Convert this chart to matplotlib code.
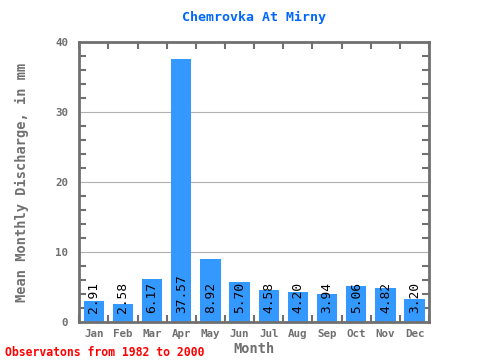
import numpy as np
import matplotlib
matplotlib.use("Agg")
import matplotlib.pyplot as plt
from matplotlib.ticker import MultipleLocator

# -------------------------------------------------------------------
# Data
# -------------------------------------------------------------------
months = ["Jan", "Feb", "Mar", "Apr", "May", "Jun",
          "Jul", "Aug", "Sep", "Oct", "Nov", "Dec"]
discharge = [2.91, 2.58, 6.17, 37.57, 8.92, 5.70,
             4.58, 4.20, 3.94, 5.06, 4.82, 3.20]
value_labels = ["2.91", "2.58", "6.17", "37.57", "8.92", "5.70",
                "4.58", "4.20", "3.94", "5.06", "4.82", "3.20"]
y_ticks = [0, 10, 20, 30, 40]

plt.rcParams["font.family"] = ["DejaVu Sans Mono"]
gray = "#707070"

fig = plt.figure(figsize=(4.8, 3.6), dpi=100)
ax = fig.add_axes([0.165, 0.106, 0.729, 0.777])

x = np.arange(len(months))
ax.bar(x, discharge, width=0.7, color="#3399ff", zorder=2)

for xi, v, lab in zip(x, discharge, value_labels):
    ax.annotate(lab, (xi, 0), xytext=(0, 6.5), textcoords="offset points",
                rotation=90, ha="center", va="bottom", fontsize=9.3,
                color="black", zorder=3)

ax.set_xlim(-0.5, len(months) - 0.5)
ax.set_ylim(0, 40)

ax.set_yticks(y_ticks)
ax.yaxis.set_minor_locator(MultipleLocator(2))
ax.grid(axis="y", which="major", color="#b0b0b0", linewidth=0.8, zorder=1)

ax.set_xticks(x)
ax.set_xticklabels(months)
ax.set_xticks(np.arange(-0.5, len(months), 1.0), minor=True)

ax.tick_params(axis="x", which="major", length=0, pad=5,
               labelsize=7.8, labelcolor=gray)
ax.tick_params(axis="x", which="minor", direction="in", length=5,
               width=1.5, color=gray, top=True, bottom=True)
ax.tick_params(axis="y", which="both", direction="in", color=gray,
               width=1.5, left=True, right=True, labelsize=7.8,
               labelcolor=gray)
ax.tick_params(axis="y", which="major", length=0, pad=8)
ax.tick_params(axis="y", which="minor", length=5)
for lbl in ax.get_xticklabels() + ax.get_yticklabels():
    lbl.set_fontweight("bold")

for sp in ax.spines.values():
    sp.set_color(gray)
    sp.set_linewidth(2)

ax.set_title("Chemrovka At Mirny", color="#0066ff", fontsize=9.5,
             fontweight="bold", pad=15)
ax.set_xlabel("Month", color=gray, fontsize=9.8, fontweight="bold", labelpad=2)
ax.set_ylabel("Mean Monthly Discharge, in mm", color=gray, fontsize=9.8,
              fontweight="bold", labelpad=19)

fig.text(0.01, 0.004, "Observatons from 1982 to 2000", color="red",
         fontsize=8.3, fontweight="bold", ha="left", va="bottom")

fig.savefig("out.png", dpi=100)
